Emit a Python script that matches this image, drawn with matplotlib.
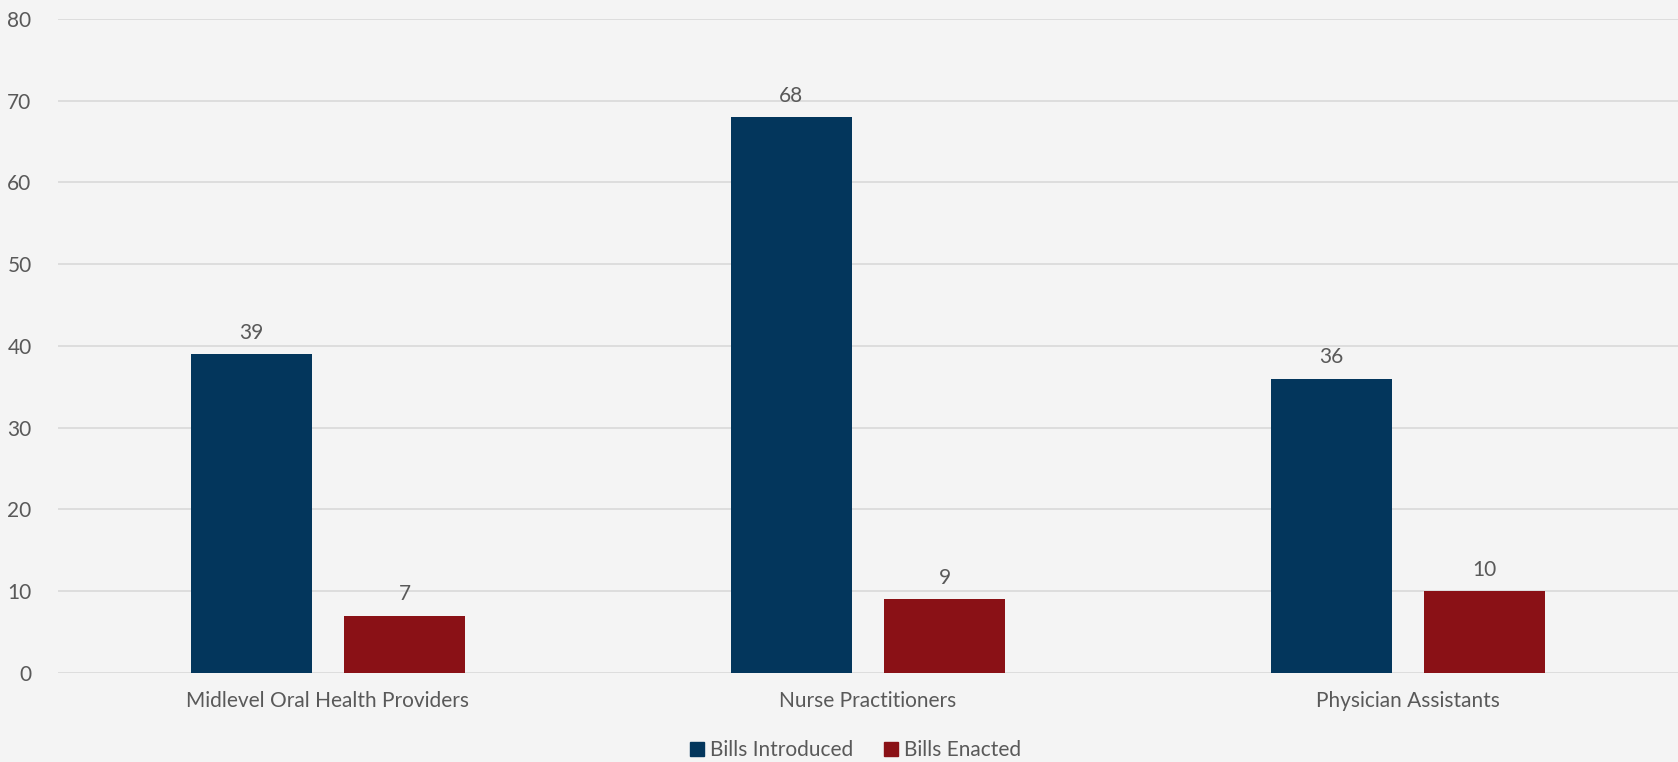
import numpy as np
import matplotlib.pyplot as plt
from matplotlib.patches import Patch

# ── Data ──────────────────────────────────────────────────────────────────────
categories = ['Midlevel Oral Health Providers', 'Nurse Practitioners', 'Physician Assistants']
bills_introduced = [39, 68, 36]
bills_enacted = [7, 9, 10]
series_names = ['Bills Introduced', 'Bills Enacted']
y_ticks = [0, 10, 20, 30, 40, 50, 60, 70, 80]

# ── Style ─────────────────────────────────────────────────────────────────────
plt.rcParams['font.family'] = ['Lato', 'DejaVu Sans']
blue = '#03365c'
red = '#8a1116'
text_grey = '#595959'
bg = '#f4f4f4'
fs = 15

fig = plt.figure(figsize=(16.78, 7.62), dpi=100, facecolor=bg)
ax = fig.add_axes([58 / 1678, 1 - 672.7 / 762, 1 - 58 / 1678, (672.7 - 19) / 762])
ax.set_facecolor(bg)

x = np.arange(len(categories))
width = 0.224
offset = 0.142

b1 = ax.bar(x - offset, bills_introduced, width, color=blue, zorder=3)
b2 = ax.bar(x + offset, bills_enacted, width, color=red, zorder=3)

for bars in (b1, b2):
    for rect in bars:
        h = rect.get_height()
        ax.annotate(f'{h:.0f}', (rect.get_x() + rect.get_width() / 2, h),
                    xytext=(0, 8), textcoords='offset points',
                    ha='center', va='bottom', fontsize=fs, color=text_grey)

ax.set_xlim(-0.5, len(categories) - 0.5)
ax.set_ylim(0, 80)
ax.set_yticks(y_ticks)
ax.set_xticks(x)
ax.set_xticklabels(categories)
ax.tick_params(axis='both', length=0, labelsize=fs, labelcolor=text_grey)
ax.tick_params(axis='y', pad=19)
ax.tick_params(axis='x', pad=13)
ax.grid(axis='y', color='#d9d9d9', linewidth=1.2, zorder=0)
for s in ax.spines.values():
    s.set_visible(False)

# legend sits a touch right of centre in the original
handles = [Patch(color=blue), Patch(color=red)]
leg = fig.legend(handles, series_names, loc='center', bbox_to_anchor=(0.51, 1 - 750 / 762),
                 ncol=2, frameon=False, fontsize=fs, handlelength=0.65, handleheight=0.65,
                 handletextpad=0.3, columnspacing=1.5)
for t in leg.get_texts():
    t.set_color(text_grey)

plt.savefig('out.png', dpi=100, facecolor=bg)
plt.close()
